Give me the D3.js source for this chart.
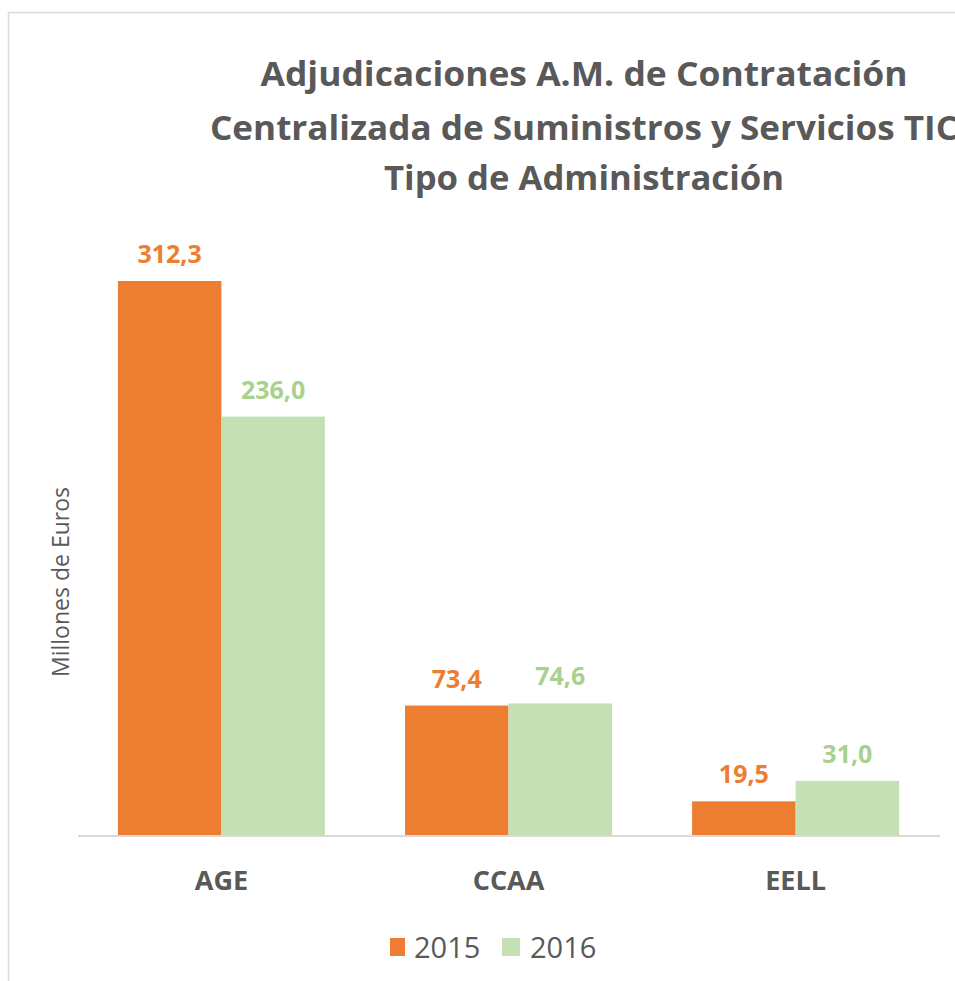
<!DOCTYPE html>
<html>
<head>
<meta charset="utf-8">
<script src="https://cdn.jsdelivr.net/npm/d3@7"></script>
<style>
  body { margin: 0; background: #fff; }
  text { font-family: "Open Sans", "Noto Sans", sans-serif; }
</style>
</head>
<body>
<script>
var w = 955
var h = 981

// data
var categories = ["AGE", "CCAA", "EELL"]
var years = ["2015", "2016"]
var values2015 = [312.3, 73.4, 19.5]
var values2016 = [236.0, 74.6, 31.0]
var titleLines = ["Adjudicaciones A.M. de Contratación", "Centralizada de Suministros y Servicios TIC", "Tipo de Administración"]
var yLabel = "Millones de Euros"

var barColors = ["#ED7D31", "#C5E0B4"]
var labelColors = ["#ED7D31", "#A9D18E"]
var textGrey = "#595959"

var rows = categories.map(function (c, i) {
    return { cat: c, vals: [values2015[i], values2016[i]] }
})

var svg = d3.select("body")
    .append("svg")
    .attr("width", w)
    .attr("height", h)

// chart frame (cut off at right / bottom)
svg.append("rect")
    .attr("x", 8.5)
    .attr("y", 12.5)
    .attr("width", 1000)
    .attr("height", 1000)
    .attr("fill", "none")
    .attr("stroke", "#d9d9d9")
    .attr("stroke-width", 1.5)

var x0 = d3.scaleBand()
    .domain(categories)
    .range([78, 939])
    .paddingInner(0.279)
    .paddingOuter(0.139)

var x1 = d3.scaleBand()
    .domain(years)
    .range([0, x0.bandwidth()])

var y = d3.scaleLinear()
    .domain([0, 350])
    .range([836, 214])

// title
var titleW = [647, 748, 400]
var titleY = [86, 140, 190]
svg.selectAll("text.title")
    .data(titleLines)
    .enter()
    .append("text")
    .attr("class", "title")
    .attr("x", 584)
    .attr("y", function (d, i) { return titleY[i] })
    .attr("text-anchor", "middle")
    .attr("textLength", function (d, i) { return titleW[i] })
    .attr("lengthAdjust", "spacingAndGlyphs")
    .style("font-size", "34px")
    .style("font-weight", "bold")
    .style("fill", textGrey)
    .text(function (d) { return d })

// bars
var groups = svg.selectAll("g.grp")
    .data(rows)
    .enter()
    .append("g")
    .attr("class", "grp")
    .attr("transform", function (d) { return "translate(" + x0(d.cat) + ",0)" })

groups.selectAll("rect")
    .data(function (d) { return d.vals })
    .enter()
    .append("rect")
    .attr("x", function (d, i) { return x1(years[i]) })
    .attr("y", function (d) { return y(d) })
    .attr("width", x1.bandwidth())
    .attr("height", function (d) { return y(0) - y(d) })
    .attr("fill", function (d, i) { return barColors[i] })

groups.selectAll("text")
    .data(function (d) { return d.vals })
    .enter()
    .append("text")
    .attr("x", function (d, i) { return x1(years[i]) + x1.bandwidth() / 2 })
    .attr("y", function (d) { return y(d) - 18 })
    .attr("text-anchor", "middle")
    .style("font-size", "25px")
    .style("font-weight", "bold")
    .style("fill", function (d, i) { return labelColors[i] })
    .text(function (d) { return d3.format(".1f")(d).replace(".", ",") })

// x axis
var xAxis = svg.append("g")
    .attr("transform", "translate(0," + y(0) + ")")
    .call(d3.axisBottom(x0).tickSize(0).tickPadding(35))
xAxis.select(".domain")
    .attr("d", "M78,0H940")
    .attr("stroke", "#d9d9d9")
    .attr("stroke-width", 2)
xAxis.selectAll("text")
    .style("font-family", "'Open Sans', sans-serif")
    .style("font-size", "27px")
    .style("font-weight", "bold")
    .style("fill", textGrey)

// y axis label
svg.append("text")
    .attr("transform", "translate(69,582) rotate(-90)")
    .attr("text-anchor", "middle")
    .attr("textLength", 190)
    .attr("lengthAdjust", "spacingAndGlyphs")
    .style("font-size", "23px")
    .style("fill", textGrey)
    .text(yLabel)

// legend
var legX = [390, 502]
var legend = svg.selectAll("g.leg")
    .data(years)
    .enter()
    .append("g")
    .attr("class", "leg")
    .attr("transform", function (d, i) { return "translate(" + legX[i] + ",938)" })
legend.append("rect")
    .attr("width", function (d, i) { return i == 0 ? 15 : 18 })
    .attr("height", 18)
    .attr("fill", function (d, i) { return barColors[i] })
legend.append("text")
    .attr("x", function (d, i) { return i == 0 ? 24 : 28 })
    .attr("y", 20)
    .style("font-size", "29px")
    .style("fill", textGrey)
    .text(function (d) { return d })
</script>
</body>
</html>
